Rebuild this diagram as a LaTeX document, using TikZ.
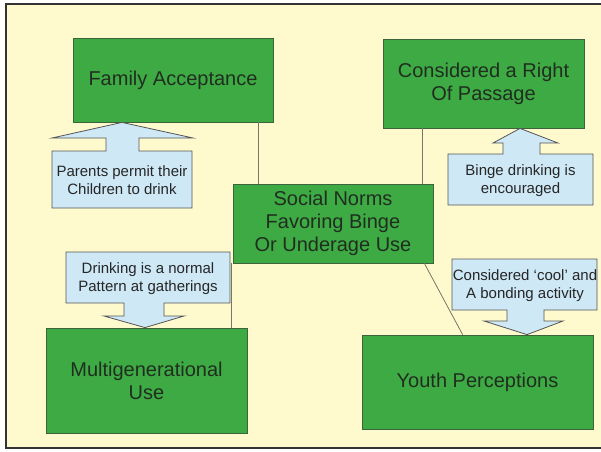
\documentclass[tikz,border=0pt]{standalone}
\usepackage{fontspec}
\setmainfont{Liberation Sans}
\usetikzlibrary{calc}

\definecolor{paper}{RGB}{255,250,206}
\definecolor{boxgreen}{RGB}{62,170,68}
\definecolor{boxedge}{RGB}{60,100,60}
\definecolor{boxtext}{RGB}{32,46,32}
\definecolor{calloutfill}{RGB}{206,232,246}
\definecolor{calloutedge}{RGB}{85,85,85}
\definecolor{linkgrey}{RGB}{120,118,100}

\tikzset{
  topic/.style={draw=boxedge, line width=0.8pt, fill=boxgreen, text=boxtext,
    align=center, inner sep=0pt, font=\fontsize{20}{23}\selectfont},
  callout/.style={draw=calloutedge, line width=0.8pt, fill=calloutfill,
    line join=miter},
  callouttext/.style={align=center, inner sep=0pt, text=black!85,
    font=\fontsize{15}{18}\selectfont},
  link/.style={draw=linkgrey, line width=0.8pt}
}

\begin{document}
\begin{tikzpicture}[x=1pt, y=-1pt]
  \useasboundingbox (0,0) rectangle (601,451);
  \clip (0,0) rectangle (601,451);

  % page background and frame
  \fill[white] (0,0) rectangle (601,451);
  \draw[fill=paper, draw=black!80, line width=1.6pt] (6,4) rectangle (610,448);

  % topic boxes
  \node[topic, minimum width=200, minimum height=84] (fam) at (173,80) {Family Acceptance};
  \node[topic, minimum width=201, minimum height=89] (pass) at (483.5,83.5) {Considered a Right\\Of Passage};
  \node[topic, minimum width=200, minimum height=79] (norms) at (333,223.5) {Social Norms\\Favoring Binge\\Or Underage Use};
  \node[topic, minimum width=201, minimum height=105] (multi) at (146.5,380.5) {Multigenerational\\Use};
  \node[topic, minimum width=231, minimum height=94] (youth) at (477.5,382) {Youth Perceptions};

  % links to the central box
  \draw[link] ($(fam.south east)+(-15,0)$) coordinate (la) -- (la |- norms.north);
  \draw[link] ($(pass.south west)+(40,0)$) coordinate (lb) -- (lb |- norms.north);
  \draw[link] ($(norms.south west)+(-1,0)$) coordinate (lc) -- (lc |- multi.north);
  \draw[link] ($(norms.south east)+(-9,0)$) -- ($(youth.north west)+(101,0)$);

  % callouts with arrows
  \draw[callout] (52,208) -- (52,151) -- (106,151) -- (106,138) -- (52,138)
    -- (fam.south -| 122,0) -- (193,138) -- (139,138) -- (139,151) -- (192,151)
    -- (192,208) -- cycle;
  \node[callouttext] (parents) at (122,180) {Parents permit their\\Children to drink};

  \draw[callout] (448,205) -- (448,154) -- (503,154) -- (503,143) -- (493,143)
    -- (pass.south -| 520,0) -- (558,143) -- (540,143) -- (540,154) -- (593,154)
    -- (593,205) -- cycle;
  \node[callouttext] (binge) at (520.5,181) {Binge drinking is\\encouraged};

  \draw[callout] (66,252) -- (230,252) -- (230,303) -- (164,303) -- (164,316)
    -- (184,316) -- (multi.north -| 145,0) -- (104,316) -- (124,316) -- (124,303)
    -- (66,303) -- cycle;
  \node[callouttext] (gather) at (148,279) {Drinking is a normal\\Pattern at gatherings};

  \draw[callout] (452,259) -- (597,259) -- (597,310) -- (544,310) -- (544,321)
    -- (563,321) -- (youth.north -| 527,0) -- (484,321) -- (507,321) -- (507,310)
    -- (452,310) -- cycle;
  \node[callouttext] (cool) at (525,285.5) {Considered ‘cool’ and\\A bonding activity};
\end{tikzpicture}
\end{document}
